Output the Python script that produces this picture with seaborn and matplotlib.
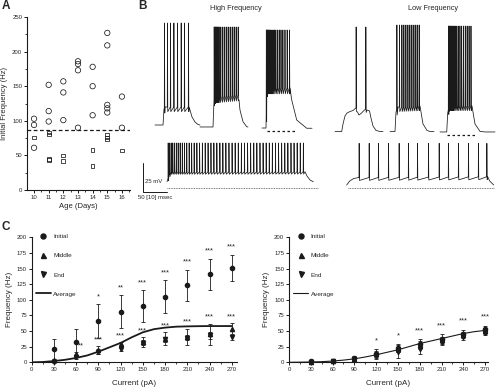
import numpy as np
import pandas as pd
import matplotlib
matplotlib.use("Agg")
import matplotlib.pyplot as plt
from matplotlib.lines import Line2D
from matplotlib.ticker import MultipleLocator
import seaborn as sns

# ---- panel A: initial frequency vs age ----
days = [10, 11, 12, 13, 14, 15, 16]
circles = [[103, 94, 61], [152, 114, 99], [157, 141, 101], [186, 182, 173, 90],
           [178, 150, 108], [227, 209, 123, 118, 112], [135, 90]]
squares = [[76], [83, 80, 45, 43], [50, 42], [], [58, 35], [80, 76, 73], [57]]
threshold = 86

# ---- panel B: example traces (ms, mV) ----
hf1_t = [0, 16.7, 18.7, 20.8, 70.8, 72.9, 77.1, 83.3, 89.6, 93.7]
hf1_v = [-70, -70, -56.2, -54.5, -54.5, -57.1, -63.1, -67.4, -69.6, -70]
hf1_spk = [19.4, 25.6, 31.9, 39.0, 46.5, 54.2, 61.0, 69.4]
hf2_t = [0, 27.1, 29.2, 31.2, 79.2, 81.2, 83.3, 89.6, 97.3, 100]
hf2_v = [-71.7, -71.7, -48.4, -45.9, -44.1, -48.4, -57.1, -67.2, -71.5, -71.7]
hf2_spk = [29.2, 30.6, 32.1, 33.7, 35.4, 37.1, 39.0, 41.7, 45.8, 50.0, 54.2,
           58.3, 62.5, 66.7, 70.8, 75.0, 79.2]
hf3_t = [0, 8.3, 9.4, 10.4, 58.3, 61.9, 72.3, 93.1, 104.2]
hf3_v = [-72.6, -72.6, -44.1, -38.1, -38.1, -48.4, -65.7, -72.8, -72.8]
hf3_spk = [8.7, 10.0, 11.2, 12.5, 14.2, 16.0, 18.1, 20.4, 22.9, 25.6, 28.5,
           31.9, 35.4, 39.2, 43.1, 47.5, 52.1, 56.9]
hfb_t = [0, 4.2, 8.3, 287.5, 291.6, 297.9, 304.7]
hfb_v = [-118.9, -113.1, -110.5, -110.3, -114.0, -117.4, -118.9]
hfb_spk = [2.1, 5.2, 8.3, 11.7, 15.2, 19.0, 22.9, 27.1, 31.5, 36.0, 40.8, 45.8,
           51.0, 56.2, 61.9, 67.5, 73.3, 79.2, 85.2, 91.2, 97.3, 103.5, 109.8,
           116.0, 122.3, 128.7, 135.2, 141.6, 148.1, 154.6, 161.0, 167.5, 173.9,
           180.4, 186.8, 193.3, 199.8, 206.2, 212.7, 219.1, 225.6, 232.0, 238.5,
           245.0, 251.4, 257.9, 264.3, 270.8, 277.2, 283.7]
lf1_t = [0, 14.0, 16.7, 20.8, 25.0, 31.2, 37.5, 43.7, 46.9, 50.0, 55.2, 60.4,
         63.9, 66.7, 71.9, 75.0, 79.2, 85.4, 93.7, 100]
lf1_v = [-75.6, -75.6, -69.1, -62.2, -59.7, -58.4, -57.5, -55.3, -58.8, -61.4,
         -59.7, -57.5, -56.2, -57.1, -57.9, -64.0, -70.9, -74.7, -75.6, -75.6]
lf1_spk = [43.7, 63.9]
lf2_t = [0, 10.4, 12.5, 16.7, 62.5, 64.6, 68.7, 77.1, 83.3, 91.6]
lf2_v = [-75.6, -75.6, -58.8, -54.5, -53.6, -58.8, -69.1, -74.7, -75.6, -75.6]
lf2_spk = [14.0, 19.4, 24.4, 28.5, 32.7, 36.9, 41.0, 45.2, 49.4, 53.5, 56.9, 60.4]
lf3_t = [0, 14.0, 16.0, 18.7, 66.7, 68.7, 72.9, 83.3, 93.7, 114.6]
lf3_v = [-76.0, -76.0, -60.0, -53.6, -53.6, -58.8, -69.1, -75.5, -76.0, -76.0]
lf3_spk = [17.3, 18.5, 19.8, 21.2, 22.9, 24.8, 27.0, 29.4, 32.0, 34.8, 37.9,
           41.2, 44.8, 48.5, 52.3, 56.2, 60.2, 64.2]
lfb_t = [0, 6.2, 14.6, 25.0, 293.7, 297.9, 306.2]
lfb_v = [-121.7, -118.3, -116.1, -115.3, -114.6, -118.3, -121.7]
lfb_spk = [25.6, 46.5, 65.8, 86.7, 108.9, 128.3, 147.1, 170.0, 192.3, 211.6,
           232.5, 253.3, 274.1, 291.6]

# ---- panel C: frequency vs current ----
current = [30, 60, 90, 120, 150, 180, 210, 240, 270]
hf_init = [22, 33, 66, 81, 90, 105, 123, 141, 151]
hf_init_err = [16, 21, 27, 26, 25, 26, 25, 25, 21]
hf_mid = [3, 13, 20, 29, 33, 38, 41, 45, 54]
hf_mid_err = [3, 4, 6, 4, 8, 10, 13, 17, 9]
hf_end = [1, 9, 17, 22, 31, 37, 39, 43, 40]
hf_end_err = [2, 3, 4, 4, 4, 4, 4, 5, 4]
avg_current = [0, 15, 30, 45, 60, 75, 90, 105, 120, 135, 150, 165, 180, 195,
               210, 225, 240, 255, 270]
hf_avg = [0, 0.5, 2, 4, 7, 11, 17, 24, 31, 40, 48, 53, 55.5, 57, 57.5, 57.8,
          58, 58, 58]
hf_star_top = ["", "", "*", "**", "***", "***", "***", "***", "***"]
hf_star_mid = ["", "**", "***", "***", "***", "***", "***", "***", "***"]

lf_init = [1.5, 2.5, 7, 14, 23, 30, 38, 46, 54]
lf_init_err = [1, 1.5, 3, 7, 6, 7, 7, 6, 4]
lf_mid = [1, 2, 6, 13, 22, 28, 35, 44, 50]
lf_mid_err = [1, 1.5, 3, 5, 6, 6, 6, 5, 4]
lf_end = [0.5, 2, 5, 11, 16, 22, 32, 40, 47]
lf_end_err = [1, 1.5, 3, 5, 9, 8, 5, 5, 4]
lf_avg = [0, 0.2, 0.5, 1, 2, 3.5, 5.5, 8.5, 12, 16, 20, 25, 30, 34, 38, 42,
          46, 49, 51]
lf_star = ["", "", "", "*", "*", "***", "***", "***", "***"]

sns.set_theme(style="ticks")
plt.rcParams["font.family"] = ["Liberation Sans", "DejaVu Sans"]
plt.rcParams["axes.linewidth"] = 0.8
plt.rcParams["path.simplify"] = False

W, H = 496, 387
fig = plt.figure(figsize=(W / 100, H / 100), dpi=100)


def rect(x0, y0, x1, y1):
    return [x0 / W, 1 - y1 / H, (x1 - x0) / W, (y1 - y0) / H]


def style_axis(ax):
    sns.despine(ax=ax)
    ax.tick_params(which="major", length=2.2, width=0.7, labelsize=4.3, pad=1.2, color="k")
    ax.tick_params(which="minor", length=1.2, width=0.6, color="k")
    for s in ax.spines.values():
        s.set_color("k")


# ---------- A ----------
axA = fig.add_axes(rect(27, 17, 130, 190))
dfA = pd.DataFrame(
    [(d, f, "circle") for d, vals in zip(days, circles) for f in vals] +
    [(d, f, "square") for d, vals in zip(days, squares) for f in vals],
    columns=["day", "freq", "kind"])
sns.scatterplot(data=dfA[dfA.kind == "circle"], x="day", y="freq", marker="o",
                s=15, ax=axA, legend=False)
sns.scatterplot(data=dfA[dfA.kind == "square"], x="day", y="freq", marker="s",
                s=7, ax=axA, legend=False)
for coll in axA.collections:
    coll.set_facecolor("none")
    coll.set_edgecolor("k")
    coll.set_linewidth(0.55)
axA.axhline(threshold, color="k", ls=(0, (3, 2)), lw=0.9)
axA.set_xlim(9.52, 16.55)
axA.set_ylim(0, 250)
axA.set_xticks(days)
axA.set_yticks([0, 50, 100, 150, 200, 250])
axA.xaxis.set_minor_locator(MultipleLocator(0.5))
axA.yaxis.set_minor_locator(MultipleLocator(25))
axA.set_xlabel("Age (Days)", fontsize=5.5, labelpad=2)
axA.set_ylabel("Initial Frequency (Hz)", fontsize=5.5, labelpad=3)
style_axis(axA)

# ---------- B ----------
axB = fig.add_axes(rect(135, 15, 496, 200))
axB.axis("off")
ms_px = 2.083
mv_px = 0.862
axB.set_xlim(0, 361 * ms_px)
axB.set_ylim(-70 - 75 * mv_px, -70 + 110 * mv_px)


def build(env_t, env_v, spikes, peak, ahp):
    pts = list(zip(env_t, env_v))
    for s in spikes:
        e = np.interp(s, env_t, env_v)
        pts += [(s, e), (s + 0.35, peak), (s + 1.0, e - ahp)]
    pts.sort()
    arr = np.array(pts)
    return arr[:, 0], arr[:, 1]


def px_x(p):
    return (p - 135) * ms_px


traces = [
    (hf1_t, hf1_v, hf1_spk, 17.9, 4, 155),
    (hf2_t, hf2_v, hf2_spk, 14.5, 5, 200),
    (hf3_t, hf3_v, hf3_spk, 11.9, 5, 262),
    (hfb_t, hfb_v, hfb_spk, -85.5, 2, 167),
    (lf1_t, lf1_v, lf1_spk, 14.5, 3, 335),
    (lf2_t, lf2_v, lf2_spk, 16.2, 4, 390),
    (lf3_t, lf3_v, lf3_spk, 15.3, 4, 440),
    (lfb_t, lfb_v, lfb_spk, -85.8, 2.5, 346.7),
]
for et, ev, spk, peak, ahp, start in traces:
    tx, vy = build(et, ev, spk, peak, ahp)
    axB.plot(px_x(start) + tx, vy, color="k", lw=0.55)

# reference baselines
axB.plot([px_x(167), px_x(318)], [-124.0, -124.0], color="0.3", ls=(0, (1, 1)), lw=0.6)
axB.plot([px_x(348), px_x(494)], [-124.6, -124.6], color="0.3", ls=(0, (1, 1)), lw=0.6)
axB.plot([px_x(267), px_x(295)], [-75.2, -75.2], color="k", ls=(0, (2, 2)), lw=0.9)
axB.plot([px_x(447), px_x(475)], [-78.6, -78.6], color="k", ls=(0, (2, 2)), lw=0.9)
# scale bar
sb_x = px_x(143.3)
axB.plot([sb_x, sb_x, sb_x + 50], [-102.5, -127.5, -127.5], color="k", lw=0.7,
         clip_on=False)
axB.text(sb_x + 2.5, -118.3, "25 mV", fontsize=4.3, va="center", ha="left")
axB.text(px_x(138), -132.6, "50 [10] msec", fontsize=4.3, va="center", ha="left",
         clip_on=False)

fig.text(236 / W, 1 - 9 / H, "High Frequency", fontsize=5.3, ha="center", va="center")
fig.text(433 / W, 1 - 9 / H, "Low Frequency", fontsize=5.3, ha="center", va="center")

# ---------- C ----------


def panel_c(ax, init, ie, mid, me, end, ee, avg, lw_avg):
    sns.lineplot(x=avg_current, y=avg, color="k", lw=lw_avg, ax=ax, zorder=2)
    kw = dict(color="k", ecolor="k", elinewidth=0.6, capsize=1.4, capthick=0.6,
              ls="none", ms=3, zorder=3, clip_on=False)
    ax.errorbar(current, init, yerr=ie, fmt="o", **kw)
    ax.errorbar(current, mid, yerr=me, fmt="^", **kw)
    ax.errorbar(current, end, yerr=ee, fmt="v", **kw)
    ax.set_ylim(0, 200)
    ax.set_xticks([0] + current)
    ax.set_yticks(range(0, 201, 25))
    ax.xaxis.set_minor_locator(MultipleLocator(15))
    ax.set_xlabel("Current (pA)", fontsize=5.8, labelpad=6)
    ax.set_ylabel("Frequency (Hz)", fontsize=5.8, labelpad=3)
    style_axis(ax)
    handles = [
        Line2D([], [], marker="o", color="k", ls="none", ms=3.6),
        Line2D([], [], marker="^", color="k", ls="none", ms=3.6),
        Line2D([], [], marker="v", color="k", ls="none", ms=3.6),
        Line2D([], [], color="k", lw=lw_avg),
    ]
    ax.legend(handles, ["Initial", "Middle", "End", "Average"], loc="upper left",
              bbox_to_anchor=(0.0, 1.06), frameon=False, fontsize=4.6,
              labelspacing=2.15, handlelength=2.4, handletextpad=0.4,
              borderaxespad=0.2)


axC1 = fig.add_axes(rect(31.7, 237.3, 236.7, 362.3))
panel_c(axC1, hf_init, hf_init_err, hf_mid, hf_mid_err, hf_end, hf_end_err,
        hf_avg, 1.3)
axC1.set_xlim(0, 276.7)
for i, c in enumerate(current):
    if hf_star_top[i]:
        axC1.text(c, hf_init[i] + hf_init_err[i] + 12, hf_star_top[i],
                  fontsize=5.4, ha="center", va="center")
    if hf_star_mid[i]:
        y = max(hf_mid[i] + hf_mid_err[i], hf_end[i] + hf_end_err[i]) + 10
        dx = 6 if hf_star_mid[i] == "**" else 0
        axC1.text(c + dx, y, hf_star_mid[i], fontsize=5.4, ha="center", va="center")

axC2 = fig.add_axes(rect(289, 237.3, 488, 362.3))
panel_c(axC2, lf_init, lf_init_err, lf_mid, lf_mid_err, lf_end, lf_end_err,
        lf_avg, 0.8)
axC2.set_xlim(0, 274)
for i, c in enumerate(current):
    if lf_star[i]:
        axC2.text(c, lf_init[i] + lf_init_err[i] + 14, lf_star[i],
                  fontsize=5.4, ha="center", va="center")

# panel letters
for lx, ly, lab in [(2, 6, "A"), (138, 6, "B"), (2, 227, "C")]:
    fig.text(lx / W, 1 - ly / H, lab, fontsize=8.5, fontweight="bold",
             ha="left", va="center")

fig.savefig("out.png", dpi=100)
